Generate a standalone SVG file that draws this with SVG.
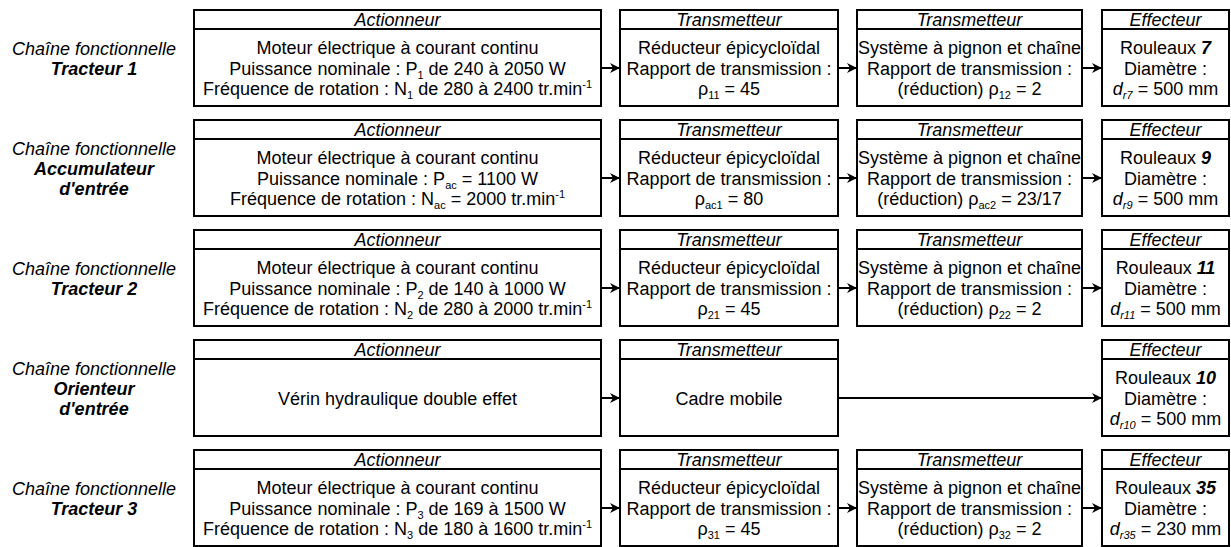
<svg xmlns="http://www.w3.org/2000/svg" width="1231" height="547" viewBox="0 0 1231 547">
<style>
text{font-family:"Liberation Sans",Arial,sans-serif;font-size:18px;fill:#000;text-anchor:middle}
.box{fill:#fff;stroke:#000;stroke-width:2}
.div{stroke:#000;stroke-width:2}
.hd{font-style:italic}
.lb{font-style:italic}
.b{font-weight:bold;font-style:italic}
.s{font-size:11px}
.i{font-style:italic}
.con{stroke:#000;stroke-width:2;fill:none;marker-end:url(#ah)}
</style>
<defs>
<marker id="ah" viewBox="0 0 10 10" refX="10" refY="5" markerWidth="10" markerHeight="10" markerUnits="userSpaceOnUse" orient="auto">
<path d="M0,0 L10,5 L0,10 L3,5 z" fill="#000"/>
</marker>
</defs>

<!-- Row 1 -->
<g id="label1"><text class="lb" x="94" y="55">Chaîne fonctionnelle</text><text class="b" x="94" y="75">Tracteur 1</text></g>
<g id="act1"><rect class="box" x="194" y="10" width="407" height="96"/><line class="div" x1="194" y1="29" x2="601" y2="29"/>
<text class="hd" x="397.5" y="26">Actionneur</text>
<text x="397.5" y="54">Moteur électrique à courant continu</text>
<text x="397.5" y="75">Puissance nominale : P<tspan class="s" dy="4">1</tspan><tspan dy="-4"> de 240 à 2050 W</tspan></text>
<text x="397.5" y="95">Fréquence de rotation : N<tspan class="s" dy="4">1</tspan><tspan dy="-4"> de 280 à 2400 tr.min</tspan><tspan class="s" dy="-7">-1</tspan></text></g>
<g id="tr11"><rect class="box" x="620" y="10" width="218" height="96"/><line class="div" x1="620" y1="29" x2="838" y2="29"/>
<text class="hd" x="729" y="26">Transmetteur</text>
<text x="729" y="54">Réducteur épicycloïdal</text>
<text x="729" y="75">Rapport de transmission :</text>
<text x="729" y="95">ρ<tspan class="s" dy="4">11</tspan><tspan dy="-4"> = 45</tspan></text></g>
<g id="tr12"><rect class="box" x="857" y="10" width="225" height="96"/><line class="div" x1="857" y1="29" x2="1082" y2="29"/>
<text class="hd" x="969.5" y="26">Transmetteur</text>
<text x="969.5" y="54">Système à pignon et chaîne</text>
<text x="969.5" y="75">Rapport de transmission :</text>
<text x="969.5" y="95">(réduction) ρ<tspan class="s" dy="4">12</tspan><tspan dy="-4"> = 2</tspan></text></g>
<g id="eff1"><rect class="box" x="1102" y="10" width="127" height="96"/><line class="div" x1="1102" y1="29" x2="1229" y2="29"/>
<text class="hd" x="1165.5" y="26">Effecteur</text>
<text x="1165.5" y="54">Rouleaux <tspan class="b">7</tspan></text>
<text x="1165.5" y="75">Diamètre :</text>
<text x="1165.5" y="95"><tspan class="i">d</tspan><tspan class="s i" dy="4">r7</tspan><tspan dy="-4"> = 500 mm</tspan></text></g>

<!-- Row 2 -->
<g id="label2"><text class="lb" x="94" y="155">Chaîne fonctionnelle</text><text class="b" x="94" y="175">Accumulateur</text><text class="b" x="94" y="195">d'entrée</text></g>
<g id="act2"><rect class="box" x="194" y="120" width="407" height="96"/><line class="div" x1="194" y1="139" x2="601" y2="139"/>
<text class="hd" x="397.5" y="136">Actionneur</text>
<text x="397.5" y="164">Moteur électrique à courant continu</text>
<text x="397.5" y="185">Puissance nominale : P<tspan class="s" dy="4">ac</tspan><tspan dy="-4"> = 1100 W</tspan></text>
<text x="397.5" y="205">Fréquence de rotation : N<tspan class="s" dy="4">ac</tspan><tspan dy="-4"> = 2000 tr.min</tspan><tspan class="s" dy="-7">-1</tspan></text></g>
<g id="tr21"><rect class="box" x="620" y="120" width="218" height="96"/><line class="div" x1="620" y1="139" x2="838" y2="139"/>
<text class="hd" x="729" y="136">Transmetteur</text>
<text x="729" y="164">Réducteur épicycloïdal</text>
<text x="729" y="185">Rapport de transmission :</text>
<text x="729" y="205">ρ<tspan class="s" dy="4">ac1</tspan><tspan dy="-4"> = 80</tspan></text></g>
<g id="tr22"><rect class="box" x="857" y="120" width="225" height="96"/><line class="div" x1="857" y1="139" x2="1082" y2="139"/>
<text class="hd" x="969.5" y="136">Transmetteur</text>
<text x="969.5" y="164">Système à pignon et chaîne</text>
<text x="969.5" y="185">Rapport de transmission :</text>
<text x="969.5" y="205">(réduction) ρ<tspan class="s" dy="4">ac2</tspan><tspan dy="-4"> = 23/17</tspan></text></g>
<g id="eff2"><rect class="box" x="1102" y="120" width="127" height="96"/><line class="div" x1="1102" y1="139" x2="1229" y2="139"/>
<text class="hd" x="1165.5" y="136">Effecteur</text>
<text x="1165.5" y="164">Rouleaux <tspan class="b">9</tspan></text>
<text x="1165.5" y="185">Diamètre :</text>
<text x="1165.5" y="205"><tspan class="i">d</tspan><tspan class="s i" dy="4">r9</tspan><tspan dy="-4"> = 500 mm</tspan></text></g>

<!-- Row 3 -->
<g id="label3"><text class="lb" x="94" y="275">Chaîne fonctionnelle</text><text class="b" x="94" y="295">Tracteur 2</text></g>
<g id="act3"><rect class="box" x="194" y="230" width="407" height="96"/><line class="div" x1="194" y1="249" x2="601" y2="249"/>
<text class="hd" x="397.5" y="246">Actionneur</text>
<text x="397.5" y="274">Moteur électrique à courant continu</text>
<text x="397.5" y="295">Puissance nominale : P<tspan class="s" dy="4">2</tspan><tspan dy="-4"> de 140 à 1000 W</tspan></text>
<text x="397.5" y="315">Fréquence de rotation : N<tspan class="s" dy="4">2</tspan><tspan dy="-4"> de 280 à 2000 tr.min</tspan><tspan class="s" dy="-7">-1</tspan></text></g>
<g id="tr31"><rect class="box" x="620" y="230" width="218" height="96"/><line class="div" x1="620" y1="249" x2="838" y2="249"/>
<text class="hd" x="729" y="246">Transmetteur</text>
<text x="729" y="274">Réducteur épicycloïdal</text>
<text x="729" y="295">Rapport de transmission :</text>
<text x="729" y="315">ρ<tspan class="s" dy="4">21</tspan><tspan dy="-4"> = 45</tspan></text></g>
<g id="tr32"><rect class="box" x="857" y="230" width="225" height="96"/><line class="div" x1="857" y1="249" x2="1082" y2="249"/>
<text class="hd" x="969.5" y="246">Transmetteur</text>
<text x="969.5" y="274">Système à pignon et chaîne</text>
<text x="969.5" y="295">Rapport de transmission :</text>
<text x="969.5" y="315">(réduction) ρ<tspan class="s" dy="4">22</tspan><tspan dy="-4"> = 2</tspan></text></g>
<g id="eff3"><rect class="box" x="1102" y="230" width="127" height="96"/><line class="div" x1="1102" y1="249" x2="1229" y2="249"/>
<text class="hd" x="1165.5" y="246">Effecteur</text>
<text x="1165.5" y="274">Rouleaux <tspan class="b">11</tspan></text>
<text x="1165.5" y="295">Diamètre :</text>
<text x="1165.5" y="315"><tspan class="i">d</tspan><tspan class="s i" dy="4">r11</tspan><tspan dy="-4"> = 500 mm</tspan></text></g>

<!-- Row 4 -->
<g id="label4"><text class="lb" x="94" y="375">Chaîne fonctionnelle</text><text class="b" x="94" y="395">Orienteur</text><text class="b" x="94" y="415">d'entrée</text></g>
<g id="act4"><rect class="box" x="194" y="340" width="407" height="96"/><line class="div" x1="194" y1="359" x2="601" y2="359"/>
<text class="hd" x="397.5" y="356">Actionneur</text>
<text x="397.5" y="405">Vérin hydraulique double effet</text></g>
<g id="tr41"><rect class="box" x="620" y="340" width="218" height="96"/><line class="div" x1="620" y1="359" x2="838" y2="359"/>
<text class="hd" x="729" y="356">Transmetteur</text>
<text x="729" y="405">Cadre mobile</text></g>
<g id="eff4"><rect class="box" x="1102" y="340" width="127" height="96"/><line class="div" x1="1102" y1="359" x2="1229" y2="359"/>
<text class="hd" x="1165.5" y="356">Effecteur</text>
<text x="1165.5" y="384">Rouleaux <tspan class="b">10</tspan></text>
<text x="1165.5" y="405">Diamètre :</text>
<text x="1165.5" y="425"><tspan class="i">d</tspan><tspan class="s i" dy="4">r10</tspan><tspan dy="-4"> = 500 mm</tspan></text></g>

<!-- Row 5 -->
<g id="label5"><text class="lb" x="94" y="495">Chaîne fonctionnelle</text><text class="b" x="94" y="515">Tracteur 3</text></g>
<g id="act5"><rect class="box" x="194" y="450" width="407" height="96"/><line class="div" x1="194" y1="469" x2="601" y2="469"/>
<text class="hd" x="397.5" y="466">Actionneur</text>
<text x="397.5" y="494">Moteur électrique à courant continu</text>
<text x="397.5" y="515">Puissance nominale : P<tspan class="s" dy="4">3</tspan><tspan dy="-4"> de 169 à 1500 W</tspan></text>
<text x="397.5" y="535">Fréquence de rotation : N<tspan class="s" dy="4">3</tspan><tspan dy="-4"> de 180 à 1600 tr.min</tspan><tspan class="s" dy="-7">-1</tspan></text></g>
<g id="tr51"><rect class="box" x="620" y="450" width="218" height="96"/><line class="div" x1="620" y1="469" x2="838" y2="469"/>
<text class="hd" x="729" y="466">Transmetteur</text>
<text x="729" y="494">Réducteur épicycloïdal</text>
<text x="729" y="515">Rapport de transmission :</text>
<text x="729" y="535">ρ<tspan class="s" dy="4">31</tspan><tspan dy="-4"> = 45</tspan></text></g>
<g id="tr52"><rect class="box" x="857" y="450" width="225" height="96"/><line class="div" x1="857" y1="469" x2="1082" y2="469"/>
<text class="hd" x="969.5" y="466">Transmetteur</text>
<text x="969.5" y="494">Système à pignon et chaîne</text>
<text x="969.5" y="515">Rapport de transmission :</text>
<text x="969.5" y="535">(réduction) ρ<tspan class="s" dy="4">32</tspan><tspan dy="-4"> = 2</tspan></text></g>
<g id="eff5"><rect class="box" x="1102" y="450" width="127" height="96"/><line class="div" x1="1102" y1="469" x2="1229" y2="469"/>
<text class="hd" x="1165.5" y="466">Effecteur</text>
<text x="1165.5" y="494">Rouleaux <tspan class="b">35</tspan></text>
<text x="1165.5" y="515">Diamètre :</text>
<text x="1165.5" y="535"><tspan class="i">d</tspan><tspan class="s i" dy="4">r35</tspan><tspan dy="-4"> = 230 mm</tspan></text></g>

<g id="connectors">
<line class="con" x1="601" y1="68" x2="620" y2="68"/>
<line class="con" x1="838" y1="68" x2="857" y2="68"/>
<line class="con" x1="1082" y1="68" x2="1102" y2="68"/>
<line class="con" x1="601" y1="178" x2="620" y2="178"/>
<line class="con" x1="838" y1="178" x2="857" y2="178"/>
<line class="con" x1="1082" y1="178" x2="1102" y2="178"/>
<line class="con" x1="601" y1="288" x2="620" y2="288"/>
<line class="con" x1="838" y1="288" x2="857" y2="288"/>
<line class="con" x1="1082" y1="288" x2="1102" y2="288"/>
<line class="con" x1="601" y1="398" x2="620" y2="398"/>
<line class="con" x1="838" y1="398" x2="1102" y2="398"/>
<line class="con" x1="601" y1="508" x2="620" y2="508"/>
<line class="con" x1="838" y1="508" x2="857" y2="508"/>
<line class="con" x1="1082" y1="508" x2="1102" y2="508"/>
</g>
</svg>
